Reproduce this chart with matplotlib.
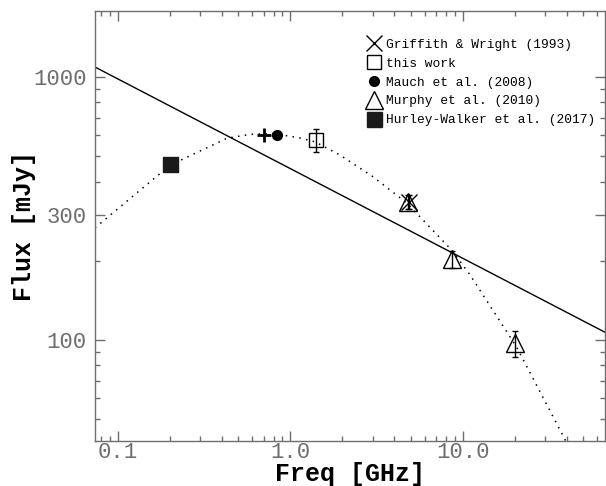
import matplotlib
matplotlib.use("Agg")
import matplotlib.pyplot as plt
from matplotlib.ticker import FixedLocator, LogLocator, NullFormatter, FixedFormatter
import numpy as np

# measured points
gw_freq = [4.85]
gw_flux = [336]
gw_err = [20]

tw_freq = [1.4]
tw_flux = [575]
tw_err = [58]

mauch_freq = [0.843]
mauch_flux = [600]

murphy_freq = [4.8, 8.6, 20.0]
murphy_flux = [336, 203, 97]
murphy_err = [20, 15, 11]

hw_freq = [0.2]
hw_flux = [467]

plus_freq = [0.70]
plus_flux = [601]

# power-law fit (straight line in log-log), end points
line_freq = [0.0738, 66.7]
line_flux = [1091, 107]

# curved model
curve_freq = [0.0738, 0.201, 0.43, 0.584, 0.8, 1.14, 1.39, 1.94, 3.01, 4.73, 8.6, 11.0, 20.5, 39.2, 44.0]
curve_flux = [267, 462, 585, 605, 610, 586, 567, 505, 418, 332, 220, 177, 94, 41.7, 34]

grey = "#6e6e6e"
mono = "Liberation Mono"

fig = plt.figure(figsize=(6.06, 4.86), dpi=100)
ax = fig.add_axes([95 / 606, 1 - 441 / 486, 510 / 606, 430 / 486])
ax.set_xscale("log")
ax.set_yscale("log")
ax.set_xlim(0.0738, 66.7)
ax.set_ylim(41.3, 1782)

ax.plot(line_freq, line_flux, color="black", lw=1.0, zorder=2)
ax.plot(curve_freq, curve_flux, color="black", lw=1.1, linestyle=(0, (1, 3.5)), zorder=2)

# error bars
ax.errorbar(gw_freq, gw_flux, yerr=gw_err, fmt="none", ecolor="black", elinewidth=1, capsize=2.5, zorder=3)
ax.errorbar(tw_freq, tw_flux, yerr=tw_err, fmt="none", ecolor="black", elinewidth=1, capsize=2.5, zorder=3)
ax.errorbar(murphy_freq, murphy_flux, yerr=murphy_err, fmt="none", ecolor="black", elinewidth=1, capsize=2.5, zorder=3)

ax.plot(gw_freq, gw_flux, "x", color="black", ms=11, mew=1.0, zorder=4, label="Griffith & Wright (1993)")
ax.plot(tw_freq, tw_flux, "s", mfc="none", mec="black", ms=10.5, mew=1.0, zorder=4, label="this work")
ax.plot(mauch_freq, mauch_flux, "o", color="black", ms=7, zorder=4, label="Mauch et al. (2008)")
ax.plot(murphy_freq, murphy_flux, "^", mfc="none", mec="black", ms=13, mew=1.0, zorder=4, label="Murphy et al. (2010)")
ax.plot(hw_freq, hw_flux, "s", color="#1a1a1a", ms=10.8, zorder=4, label="Hurley-Walker et al. (2017)")
ax.plot(plus_freq, plus_flux, "+", color="black", ms=10.5, mew=2.0, zorder=4)

leg = ax.legend(loc="upper left", bbox_to_anchor=(0.531, 0.935), frameon=False,
                borderpad=0, borderaxespad=0, handlelength=1.2, handletextpad=0.4,
                labelspacing=0.52, prop={"family": mono, "size": 9.3})

# ticks
ax.xaxis.set_major_locator(FixedLocator([0.1, 1.0, 10.0]))
ax.xaxis.set_major_formatter(FixedFormatter(["0.1", "1.0", "10.0"]))
ax.xaxis.set_minor_locator(LogLocator(base=10, subs=np.arange(2, 10)))
ax.xaxis.set_minor_formatter(NullFormatter())
ax.yaxis.set_major_locator(FixedLocator([100, 300, 1000]))
ax.yaxis.set_major_formatter(FixedFormatter(["100", "300", "1000"]))
ax.yaxis.set_minor_locator(LogLocator(base=10, subs=[2, 4, 5, 6, 7, 8, 9]))
ax.yaxis.set_minor_formatter(NullFormatter())

ax.tick_params(which="both", direction="in", top=True, right=True, color=grey, width=1.0)
ax.tick_params(which="major", length=7, labelsize=16, labelcolor=grey, pad=6)
ax.tick_params(axis="x", which="major", pad=0.5)
ax.tick_params(which="minor", length=3.5)
for lab in ax.get_xticklabels() + ax.get_yticklabels():
    lab.set_family(mono)

for s in ax.spines.values():
    s.set_color(grey)
    s.set_linewidth(1.0)

ax.set_xlabel("Freq [GHz]", family=mono, fontsize=18, fontweight="bold", labelpad=-0.8)
ax.set_ylabel("Flux [mJy]", family=mono, fontsize=18, fontweight="bold", labelpad=-2)

fig.savefig("out.png", dpi=100)
